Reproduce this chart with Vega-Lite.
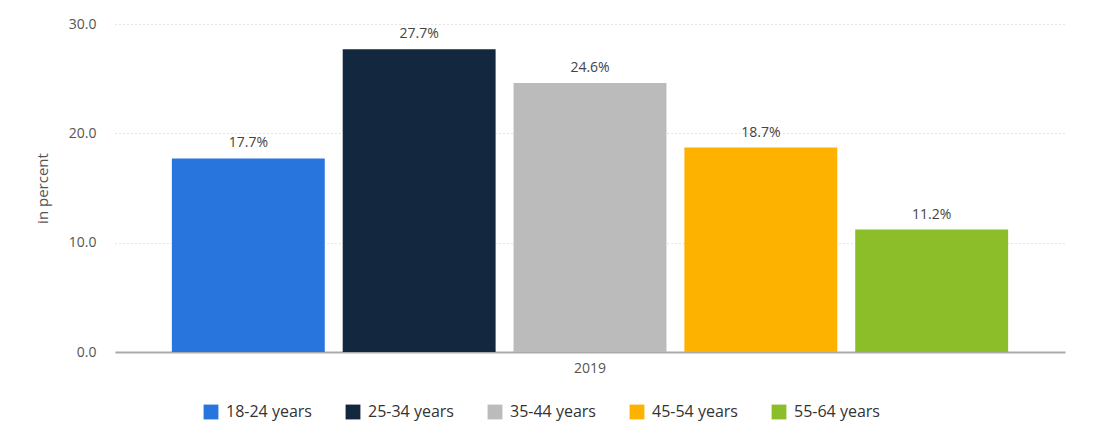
{
  "$schema": "https://vega.github.io/schema/vega-lite/v6.json",
  "width": 950,
  "height": 328,
  "autosize": {"type": "none"},
  "padding": {"left": 115, "top": 24, "right": 35, "bottom": 88},
  "background": "white",
  "config": {
    "font": "Open Sans",
    "view": {"stroke": null}
  },
  "data": {
    "values": [
      {"year": "2019", "age": "18-24 years", "value": 17.7},
      {"year": "2019", "age": "25-34 years", "value": 27.7},
      {"year": "2019", "age": "35-44 years", "value": 24.6},
      {"year": "2019", "age": "45-54 years", "value": 18.7},
      {"year": "2019", "age": "55-64 years", "value": 11.2}
    ]
  },
  "transform": [
    {"calculate": "format(datum.value, '.1f') + '%'", "as": "label"}
  ],
  "encoding": {
    "x": {
      "field": "year",
      "type": "nominal",
      "scale": {"paddingInner": 0, "paddingOuter": 0.068},
      "axis": {
        "title": null,
        "labelAngle": 0,
        "labelFontSize": 14,
        "labelColor": "#555",
        "labelPadding": 9,
        "domainColor": "#aaa",
        "domainWidth": 2,
        "ticks": false
      }
    },
    "xOffset": {
      "field": "age",
      "type": "nominal",
      "scale": {"paddingInner": 0.105, "paddingOuter": 0}
    },
    "y": {
      "field": "value",
      "type": "quantitative",
      "scale": {"domain": [0, 30], "nice": false},
      "axis": {
        "title": "in percent",
        "titleFontSize": 15,
        "titleFontWeight": "normal",
        "titleColor": "#555",
        "titlePadding": 18,
        "values": [0, 10, 20, 30],
        "format": ".1f",
        "labelFontSize": 14,
        "labelColor": "#555",
        "labelPadding": 19,
        "domain": false,
        "ticks": false,
        "gridColor": "#ccc",
        "gridDash": [1, 3],
        "gridWidth": 1
      }
    }
  },
  "layer": [
    {
      "mark": {"type": "bar"},
      "encoding": {
        "color": {
          "field": "age",
          "type": "nominal",
          "scale": {
            "domain": ["18-24 years", "25-34 years", "35-44 years", "45-54 years", "55-64 years"],
            "range": ["#2876dd", "#13283f", "#bbbbbb", "#fdb200", "#8bbe29"]
          },
          "legend": {
            "title": null,
            "orient": "none",
            "legendX": 88,
            "legendY": 380,
            "direction": "horizontal",
            "columns": 5,
            "gridAlign": "all",
            "symbolType": "square",
            "symbolSize": 220,
            "symbolStrokeWidth": 0,
            "labelFontSize": 16,
            "labelColor": "#333",
            "columnPadding": 33,
            "labelOffset": 7
          }
        }
      }
    },
    {
      "mark": {"type": "text", "dy": -15, "fontSize": 14, "color": "#444"},
      "encoding": {
        "text": {"field": "label", "type": "nominal"}
      }
    }
  ]
}
